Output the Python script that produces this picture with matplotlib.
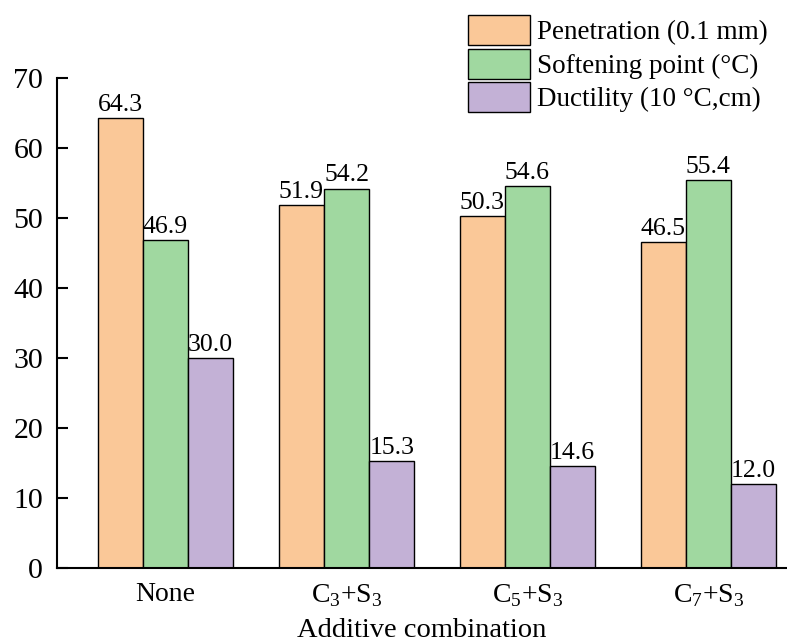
import matplotlib.pyplot as plt
import numpy as np

plt.rcParams['font.family'] = ['Liberation Serif', 'DejaVu Serif']
plt.rcParams['mathtext.fontset'] = 'custom'
plt.rcParams['mathtext.rm'] = 'Liberation Serif'

categories = [r'None', r'C$_\mathregular{3}$+S$_\mathregular{3}$',
              r'C$_\mathregular{5}$+S$_\mathregular{3}$', r'C$_\mathregular{7}$+S$_\mathregular{3}$']
penetration = [64.3, 51.9, 50.3, 46.5]
softening = [46.9, 54.2, 54.6, 55.4]
ductility = [30.0, 15.3, 14.6, 12.0]
series_names = ['Penetration (0.1 mm)', 'Softening point (\u00b0C)', 'Ductility (10 \u00b0C,cm)']

colors = ['#FAC898', '#A0D8A0', '#C3B1D6']

fig = plt.figure(figsize=(7.87, 6.42), dpi=100)
ax = fig.add_axes([0.0724, 0.1153, 0.9266, 0.7632])

x = np.arange(len(categories))
w = 0.25
handles = []
for i, (vals, name, c) in enumerate(zip([penetration, softening, ductility], series_names, colors)):
    b = ax.bar(x + (i - 1) * w, vals, w, color=c, edgecolor='black', linewidth=1, label=name)
    handles.append(b)
    for xi, v in zip(x + (i - 1) * w, vals):
        ax.text(xi, v + 0.3, f'{v:.1f}', ha='center', va='bottom', fontsize=18.5)

ax.set_xlim(-0.6, 3.43)
ax.set_ylim(0, 70)
ax.set_yticks(range(0, 71, 10))
ax.set_xticks(x)
ax.set_xticklabels(categories)
ax.tick_params(axis='y', direction='in', length=8, width=1.5, labelsize=21.5, pad=10)
ax.tick_params(axis='x', length=0, labelsize=20, pad=10)
for s in ['top', 'right']:
    ax.spines[s].set_visible(False)
for s in ['left', 'bottom']:
    ax.spines[s].set_linewidth(1.5)

ax.set_xlabel('Additive combination', fontsize=20.5, labelpad=7)

fig.legend(handles=handles, loc='upper left', bbox_to_anchor=(468 / 787, 1 - 15 / 642),
           frameon=False, fontsize=19.5, handlelength=2.3, handleheight=1.33,
           labelspacing=0.13, handletextpad=0.25, borderpad=0, borderaxespad=0)

fig.savefig('out.png', dpi=100)
